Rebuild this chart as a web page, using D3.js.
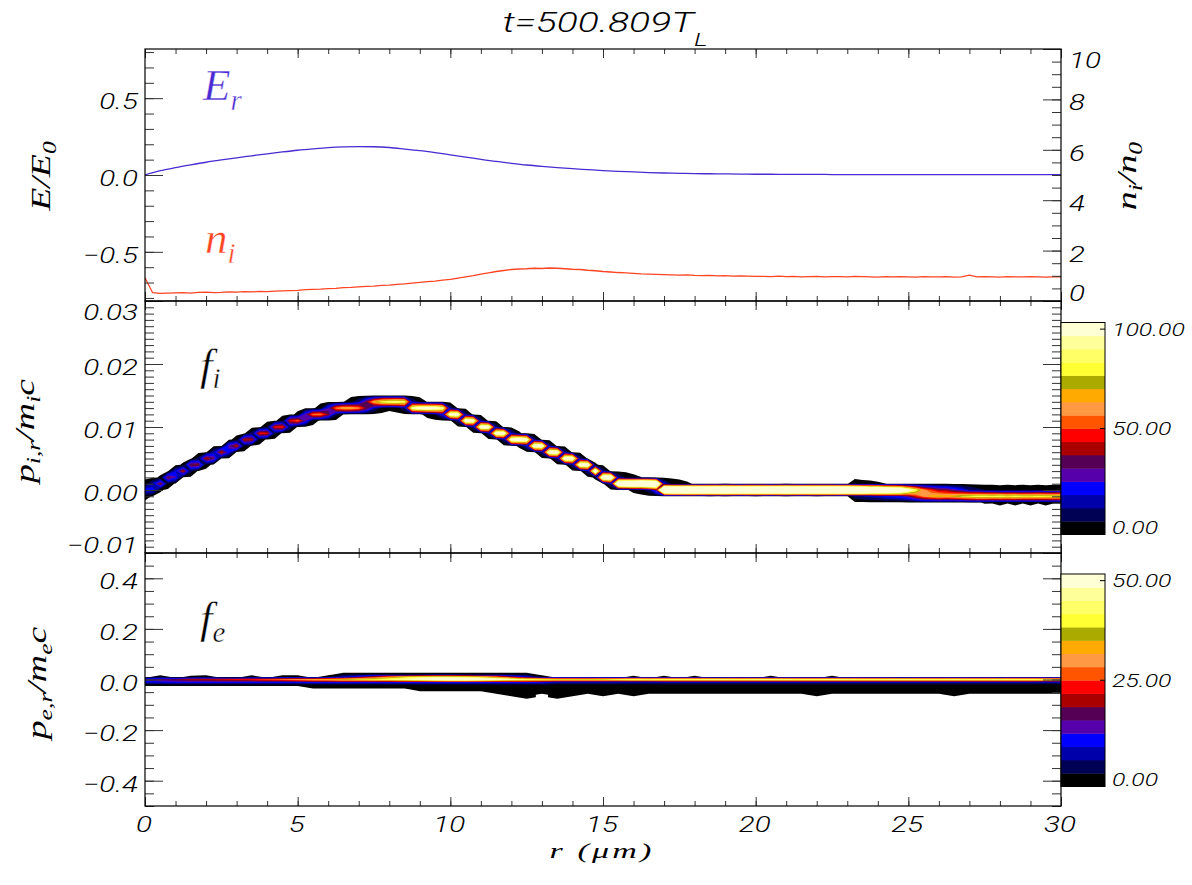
<!DOCTYPE html>
<html>
<head>
<meta charset="utf-8">
<script src="https://cdn.jsdelivr.net/npm/d3@7/dist/d3.min.js"></script>
<style>
  html, body { margin: 0; padding: 0; background: #fff; }
  svg { display: block; }
</style>
</head>
<body>
<svg id="chart" width="1192" height="885"></svg>
<script>
// ======================= DATA =======================
const titleMain = "t=500.809T";
const titleSub = "L";

const rDomain = [0, 30];
const rMajorTicks = [0, 5, 10, 15, 20, 25, 30];
const rTickLabels = ["0", "5", "10", "15", "20", "25", "30"];

// --- top panel: radial field E_r (left axis) and ion density n_i (right axis)
const erStep = 0.5;   // um between samples
const erValues = [0.000,0.028,0.048,0.066,0.083,0.098,0.112,0.125,0.138,0.150,
  0.161,0.170,0.178,0.183,0.185,0.184,0.179,0.169,0.158,0.145,
  0.131,0.117,0.102,0.088,0.076,0.065,0.056,0.048,0.041,0.035,
  0.029,0.024,0.020,0.016,0.013,0.011,0.009,0.008,0.007,0.006,
  0.005,0.005,0.004,0.004,0.004,0.003,0.003,0.003,0.003,0.003,
  0.002,0.002,0.002,0.002,0.002,0.002,0.002,0.002,0.002,0.002,0.002];
const niStep = 0.25;
const niValues = [0.92,0.33,0.30,0.31,0.32,0.33,0.31,0.34,0.35,0.33,
  0.34,0.36,0.35,0.37,0.36,0.38,0.37,0.39,0.40,0.41,
  0.42,0.45,0.46,0.47,0.49,0.50,0.53,0.54,0.56,0.58,
  0.59,0.62,0.63,0.66,0.68,0.71,0.74,0.77,0.79,0.83,
  0.86,0.91,0.96,1.01,1.07,1.12,1.17,1.21,1.25,1.27,
  1.28,1.30,1.29,1.31,1.30,1.28,1.26,1.25,1.22,1.20,
  1.17,1.15,1.13,1.12,1.10,1.08,1.07,1.06,1.05,1.04,
  1.03,1.04,1.02,1.01,1.02,1.00,1.01,0.99,1.00,0.99,
  0.98,0.98,0.97,0.99,0.97,0.98,0.96,0.97,0.98,0.96,
  0.97,0.97,0.96,0.98,0.97,0.96,0.95,0.97,0.96,0.97,
  0.96,0.95,0.97,0.96,0.96,0.97,0.95,0.96,1.03,0.96,
  0.97,0.96,0.95,0.97,0.96,0.96,0.97,0.96,0.95,0.96,0.96];

const topLeftDomain = [-0.82, 0.82];
const topLeftMajor = [-0.5, 0.0, 0.5];
const topLeftLabels = ["\u22120.5", "0.0", "0.5"];
const topRightDomain = [0, 10];
const topRightMajor = [0, 2, 4, 6, 8, 10];
const topRightLabels = ["0", "2", "4", "6", "8", "10"];

// --- middle panel: ion phase space f_i (ridge momentum per r column, in units of 0.001)
const ionDomain = [-0.01, 0.03];
const ionMajor = [-0.01, 0.0, 0.01, 0.02, 0.03];
const ionLabels = ["\u22120.01", "0.00", "0.01", "0.02", "0.03"];
const ionColStep = 0.25;     // um
const ionRowStep = 0.001;    // p_i,r / m_i c
const ionRidgeP = [0.0,0.4,1.0,1.75,2.45,3.1,3.7,4.3,4.85,5.4,
  5.95,6.55,7.15,7.75,8.3,8.8,9.25,9.75,10.2,10.7,
  11.1,11.5,11.85,12.15,12.45,12.75,13.0,13.15,13.3,13.5,
  13.7,13.85,13.95,13.9,13.75,13.25,13.1,12.95,12.85,12.7,
  12.2,11.8,11.2,10.8,10.2,9.8,9.2,8.8,8.25,8.0,
  7.75,7.2,6.8,6.2,5.8,5.2,4.8,4.2,3.8,3.0,
  2.2,1.8,1.2,1.1,1.0,0.95,0.85,0.7,0.25,0.15,
  0.1,0.05,0.0,0,0,0,0,0,0,0,
  0,0,0,0,0,0,0,0,0,0,
  0,0,0,-0.05,-0.1,-0.12,-0.15,-0.18,-0.2,-0.22,
  -0.3,-0.4,-0.5,-0.55,-0.6,-0.6,-0.65,-0.7,-0.8,-0.85,
  -0.9,-0.9,-0.95,-0.9,-0.95,-0.9,-0.95,-0.9,-0.95,-0.9,
  -0.9];
const ionCount = [30,38,42,44,45,46,46,47,47,48,
  48,49,49,50,51,52,53,54,55,56,
  57,58,60,62,64,66,68,70,72,75,
  82,88,92,95,100,108,112,115,117,118,
  120,122,124,122,125,124,126,125,127,126,
  128,127,129,128,130,129,131,130,132,132,
  140,150,160,165,170,175,180,190,200,200,
  200,205,200,198,202,200,205,200,198,200,
  202,200,198,200,205,200,198,200,202,200,
  200,198,200,195,190,185,180,175,170,165,
  140,130,120,115,110,105,100,100,95,95,
  92,90,90,88,90,88,88,90,88,88,
  88];
const ionSpreadEnd = [0.3, 0.6, 16.9, 23.1, 30.1];          // r where each spread range ends
const ionSpreadVal = [0.40, 0.28, 0.22, 0.185, 0.27];       // momentum spread (bins)

// --- bottom panel: electron phase space f_e (per r column, rows of 0.01)
const eDomain = [-0.5, 0.5];
const eMajor = [-0.4, -0.2, 0.0, 0.2, 0.4];
const eLabels = ["\u22120.4", "\u22120.2", "0.0", "0.2", "0.4"];
const eColStep = 0.5;
const eRowStep = 0.01;
const eUp2 = [0,0,0,0,0,0,0,0,0,0,
  0,0,0,3,3,3,3,3,3,3,
  3,3,3,3,3,3,0,0,0,0,
  0,0,0,0,0,0,0,0,0,0,
  0,0,0,0,0,0,0,0,0,0,
  0,0,0,0,0,0,0,0,0,0,
  0];
const eUp = [0,3,0,2,3,0,0,3,0,3,
  3,0,3,8,15,22,30,36,40,42,
  42,40,36,30,20,10,3,0,0,0,
  0,0,2,0,2,0,2,0,0,0,
  0,2,0,0,0,2,0,0,0,0,
  0,0,0,0,0,0,0,0,0,0,
  0];
const eCore = [14,17,19,21,22,23,24,25,27,29,
  31,33,35,37,39,41,44,47,52,56,
  58,58,56,53,49,45,42,40,40,41,
  42,43,44,44,45,45,45,46,46,45,
  46,46,46,45,45,46,46,45,45,46,
  46,45,45,46,45,45,46,45,45,44,
  44];
const eBelow = [10,11,12,12,12,12,12,12,12,12,
  12,14,14,14,14,14,14,14,14,14,
  14,14,14,14,14,14,14,9,9,9,
  9,9,9,9,9,9,9,9,9,9,
  9,9,9,9,9,9,9,9,9,9,
  9,9,9,9,9,9,9,9,9,9,
  9];
const eTailRows = [1,1,1,1,1,1,1,1,1,1,
  1,2,2,2,2,2,2,2,3,3,
  3,3,3,4,5,6,4,6,5,4,
  5,4,5,4,4,4,4,4,4,4,
  4,4,4,4,5,4,4,4,4,4,
  4,4,4,5,4,4,4,4,4,4,
  4];
const eTailValue = 2.5;

// --- colour table (16 filled levels, low to high)
const levelColors = ["#000000","#000055","#0000aa","#0000ff","#5500aa","#550055",
  "#aa0000","#ff0000","#ff5500","#ff9944","#ffaa00","#aaaa00",
  "#ffff33","#ffff66","#ffff99","#ffffd5"];
const ionCbarMax = 100, ionCbarTicks = [0, 50, 100], ionCbarLabels = ["0.00", "50.00", "100.00"];
const eCbarMax = 50, eCbarTicks = [0, 25, 50], eCbarLabels = ["0.00", "25.00", "50.00"];

const colorEr = "#4a2bd2";
const colorNi = "#ff4422";

// ======================= LAYOUT =======================
const svg = d3.select("#chart");
const plotL = 145, plotR = 1061;
const pTops = [49, 301, 553], pBots = [301, 553, 806];
const cbX0 = 1061, cbX1 = 1105;
const cbIon = [322.5, 534.5], cbE = [574, 786.5];

const x = d3.scaleLinear().domain(rDomain).range([plotL, plotR]);
const yE = d3.scaleLinear().domain(topLeftDomain).range([pBots[0], pTops[0]]);
const yN = d3.scaleLinear().domain(topRightDomain).range([pBots[0], pTops[0]]);
const yI = d3.scaleLinear().domain(ionDomain).range([pBots[1], pTops[1]]);
const yEl = d3.scaleLinear().domain(eDomain).range([pBots[2], pTops[2]]);

const sansFam = "Roboto, 'Liberation Sans', Arial, sans-serif";
const serifFam = "'Liberation Serif', 'Times New Roman', serif";
const stretch = 1.35;

const defs = svg.append("defs");
[0, 1, 2].forEach(k => {
  defs.append("clipPath").attr("id", "clip" + k).append("rect")
    .attr("x", plotL).attr("y", pTops[k])
    .attr("width", plotR - plotL).attr("height", pBots[k] - pTops[k]);
});

// ---------- helpers ----------
function erf(v) {
  const s = Math.sign(v); const a = Math.abs(v);
  const t = 1 / (1 + 0.3275911 * a);
  const y = 1 - (((((1.061405429 * t - 1.453152027) * t) + 1.421413741) * t - 0.284496736) * t + 0.254829592) * t * Math.exp(-a * a);
  return s * y;
}
function Phi(z) { return 0.5 * (1 + erf(z / Math.SQRT2)); }

function richText(parent, segs, o) {
  const t = parent.append("text")
    .attr("transform", o.transform)
    .attr("font-family", o.family || sansFam)
    .attr("font-style", "italic")
    .attr("font-weight", o.weight || 400)
    .attr("font-size", o.size)
    .attr("fill", o.fill || "#000")
    .attr("text-anchor", o.anchor || "start");
  if (o.ls) t.attr("letter-spacing", o.ls);
  if (o.thin) t.attr("stroke", "#fff").attr("stroke-width", o.thin);
  let shift = 0;
  segs.forEach(s => {
    const target = s.sub ? o.subShift : 0;
    const ts = t.append("tspan").text(s.t).attr("dy", target - shift);
    if (s.sub) ts.attr("font-size", o.subSize);
    shift = target;
  });
  return t;
}
function label(x0, y0, str, size, anchor) {
  return richText(svg, [{t: str}], {
    transform: `translate(${x0},${y0}) scale(${stretch},1)`, size: size, anchor: anchor, weight: 300
  });
}

function tickAxis(axisFn, scale, values, len, transform) {
  const g = svg.append("g").attr("transform", transform)
    .call(axisFn(scale).tickValues(values).tickSize(-len).tickFormat(""));
  g.select(".domain").remove();
  g.selectAll(".tick line").attr("stroke", "#333").attr("stroke-width", 1);
  g.selectAll(".tick text").remove();
}

function drawDensity(k, grid, nCols, nRows, colStep, rowStep, topRow, yScale, thresholds) {
  const gen = d3.contours().size([nCols, nRows]).thresholds(thresholds);
  const proj = d3.geoTransform({
    point: function (X, Y) {
      this.stream.point(x((X - 0.5) * colStep), yScale((topRow - (Y - 0.5)) * rowStep));
    }
  });
  const path = d3.geoPath(proj);
  svg.append("g").attr("clip-path", `url(#clip${k})`)
    .selectAll("path").data(gen(grid)).join("path")
    .attr("d", path).attr("fill", (d, i) => levelColors[i]).attr("stroke", "none");
}

// ---------- middle panel: ion phase-space density ----------
{
  const topRow = 17, botRow = -4;
  const rows = d3.range(topRow, botRow - 1, -1);
  const nCols = ionRidgeP.length, nRows = rows.length;
  const grid = new Array(nCols * nRows).fill(0);
  for (let i = 0; i < nCols; i++) {
    const r = i * ionColStep;
    let s = ionSpreadVal[ionSpreadVal.length - 1];
    for (let q = 0; q < ionSpreadEnd.length; q++) { if (r < ionSpreadEnd[q]) { s = ionSpreadVal[q]; break; } }
    rows.forEach((kk, j) => {
      grid[j * nCols + i] = ionCount[i] * (Phi((kk + 0.5 - ionRidgeP[i]) / s) - Phi((kk - 0.5 - ionRidgeP[i]) / s));
    });
  }
  const thr = [1].concat(d3.range(1, 16).map(v => v * ionCbarMax / 16));
  drawDensity(1, grid, nCols, nRows, ionColStep, ionRowStep, topRow, yI, thr);
}

// ---------- bottom panel: electron phase-space density ----------
{
  const topRow = 5, botRow = -12;
  const rows = d3.range(topRow, botRow - 1, -1);
  const nCols = eCore.length, nRows = rows.length;
  const grid = new Array(nCols * nRows).fill(0);
  for (let i = 0; i < nCols; i++) {
    rows.forEach((kk, j) => {
      let v = 0;
      if (kk === 0) v = eCore[i];
      else if (kk === 1) v = eUp[i];
      else if (kk === 2) v = eUp2[i];
      else if (kk === -1) v = eBelow[i];
      else if (kk < -1 && kk >= -1 - eTailRows[i]) v = eTailValue;
      grid[j * nCols + i] = v;
    });
  }
  const thr = [1].concat(d3.range(1, 16).map(v => v * eCbarMax / 16));
  drawDensity(2, grid, nCols, nRows, eColStep, eRowStep, topRow, yEl, thr);
}

// ---------- top panel: lines ----------
{
  const g = svg.append("g").attr("clip-path", "url(#clip0)");
  g.append("path").datum(erValues)
    .attr("d", d3.line().x((d, i) => x(i * erStep)).y(d => yE(d)).curve(d3.curveMonotoneX))
    .attr("fill", "none").attr("stroke", colorEr).attr("stroke-width", 1.3);
  g.append("path").datum(niValues)
    .attr("d", d3.line().x((d, i) => x(i * niStep)).y(d => yN(d)))
    .attr("fill", "none").attr("stroke", colorNi).attr("stroke-width", 1.3);
}

// ---------- frames & ticks ----------
const xMinor = d3.range(0, 31);
[0, 1, 2].forEach(k => {
  tickAxis(d3.axisTop, x, xMinor, 5, `translate(0,${pTops[k]})`);
  tickAxis(d3.axisTop, x, rMajorTicks, 9, `translate(0,${pTops[k]})`);
  tickAxis(d3.axisBottom, x, xMinor, 5, `translate(0,${pBots[k]})`);
  tickAxis(d3.axisBottom, x, rMajorTicks, 9, `translate(0,${pBots[k]})`);
});
const yAxesDef = [
  {k: 0, scale: yE, minor: d3.range(-8, 9).map(v => v / 10), major: topLeftMajor, side: "left"},
  {k: 0, scale: yN, minor: d3.range(0, 21).map(v => v / 2), major: topRightMajor, side: "right"},
  {k: 1, scale: yI, minor: d3.range(-10, 31).map(v => v / 1000), major: ionMajor, side: "both"},
  {k: 2, scale: yEl, minor: d3.range(-10, 11).map(v => v / 20), major: eMajor, side: "both"}
];
yAxesDef.forEach(a => {
  if (a.side === "left" || a.side === "both") {
    tickAxis(d3.axisLeft, a.scale, a.minor, 9, `translate(${plotL},0)`);
    tickAxis(d3.axisLeft, a.scale, a.major, 18, `translate(${plotL},0)`);
  }
  if (a.side === "right" || a.side === "both") {
    tickAxis(d3.axisRight, a.scale, a.minor, 9, `translate(${plotR},0)`);
    tickAxis(d3.axisRight, a.scale, a.major, 18, `translate(${plotR},0)`);
  }
});
[0, 1, 2].forEach(k => {
  svg.append("rect").attr("x", plotL).attr("y", pTops[k])
    .attr("width", plotR - plotL).attr("height", pBots[k] - pTops[k])
    .attr("fill", "none").attr("stroke", "#000").attr("stroke-width", 1.2);
});

// ---------- tick labels ----------
function leftLabels(scale, values, labels, top, bot, xPos, anchor) {
  values.forEach((v, i) => {
    const yy = scale(v);
    let base = yy + 11;
    if (Math.abs(yy - top) < 1) base = yy + 18.5;
    if (Math.abs(yy - bot) < 1) base = yy - 0.5;
    label(xPos, base, labels[i], 22, anchor);
  });
}
leftLabels(yE, topLeftMajor, topLeftLabels, pTops[0], pBots[0], 138, "end");
leftLabels(yN, topRightMajor, topRightLabels, pTops[0], pBots[0], 1069, "start");
leftLabels(yI, ionMajor, ionLabels, pTops[1], pBots[1], 138, "end");
leftLabels(yEl, eMajor, eLabels, pTops[2], pBots[2], 138, "end");
rMajorTicks.forEach((v, i) => label(x(v) - 1, 832, rTickLabels[i], 22, "middle"));

// ---------- colour bars ----------
function colorbar(range, maxV, ticks, labels) {
  const [y0, y1] = range;
  const bh = (y1 - y0) / levelColors.length;
  const g = svg.append("g");
  levelColors.forEach((c, i) => {
    g.append("rect").attr("x", cbX0).attr("y", y1 - (i + 1) * bh)
      .attr("width", cbX1 - cbX0).attr("height", bh + 0.4).attr("fill", c);
  });
  g.append("rect").attr("x", cbX0).attr("y", y0).attr("width", cbX1 - cbX0).attr("height", y1 - y0)
    .attr("fill", "none").attr("stroke", "#000").attr("stroke-width", 1);
  const ls = d3.scaleLinear().domain([0, maxV]).range([y1 - bh / 2, y0 + bh / 2]);
  ticks.forEach((v, i) => {
    g.append("line").attr("x1", cbX1 - 5).attr("x2", cbX1).attr("y1", ls(v)).attr("y2", ls(v))
      .attr("stroke", "#000").attr("stroke-width", 1);
    label(1112, ls(v) + 6.5, labels[i], 18.5, "start");
  });
}
colorbar(cbIon, ionCbarMax, ionCbarTicks, ionCbarLabels);
colorbar(cbE, eCbarMax, eCbarTicks, eCbarLabels);

// ---------- title ----------
richText(svg, [{t: titleMain}, {t: titleSub, sub: true}], {
  transform: `translate(605,32) scale(1.4,1)`, size: 28, anchor: "middle", subSize: 19, subShift: 14, weight: 300
});

// ---------- in-panel math labels ----------
const thinStroke = 0.45;
richText(svg, [{t: "E"}, {t: "r", sub: true}], {
  transform: "translate(203,100)", family: serifFam, size: 45, subSize: 29, subShift: 10, fill: colorEr, thin: thinStroke
});
richText(svg, [{t: "n"}, {t: "i", sub: true}], {
  transform: "translate(205,253)", family: serifFam, size: 45, subSize: 29, subShift: 10, fill: colorNi, thin: thinStroke
});
richText(svg, [{t: "f"}, {t: "i", sub: true}], {
  transform: "translate(200,380)", family: serifFam, size: 45, subSize: 29, subShift: 8, thin: thinStroke
});
richText(svg, [{t: "f"}, {t: "e", sub: true}], {
  transform: "translate(200,633)", family: serifFam, size: 45, subSize: 29, subShift: 9, thin: thinStroke
});

// ---------- axis titles ----------
richText(svg, [{t: "E/E"}, {t: "0", sub: true}], {
  transform: `translate(50,176) rotate(-90) scale(${stretch},1)`, family: serifFam, size: 28,
  anchor: "middle", subSize: 19, subShift: 6
});
richText(svg, [{t: "n"}, {t: "i", sub: true}, {t: "/n"}, {t: "0", sub: true}], {
  transform: `translate(1136,176) rotate(-90) scale(${stretch},1)`, family: serifFam, size: 28,
  anchor: "middle", subSize: 19, subShift: 6
});
richText(svg, [{t: "p"}, {t: "i,r", sub: true}, {t: "/m"}, {t: "i", sub: true}, {t: "c"}], {
  transform: `translate(34,431) rotate(-90) scale(${stretch},1)`, family: serifFam, size: 28,
  anchor: "middle", subSize: 19, subShift: 6
});
richText(svg, [{t: "p"}, {t: "e,r", sub: true}, {t: "/m"}, {t: "e", sub: true}, {t: "c"}], {
  transform: `translate(46,683) rotate(-90) scale(${stretch},1)`, family: serifFam, size: 28,
  anchor: "middle", subSize: 19, subShift: 6
});
richText(svg, [{t: "r (\u03bcm)"}], {
  transform: "translate(602,858) scale(1.55,1)", family: serifFam, size: 22, anchor: "middle", ls: 2
});
</script>
</body>
</html>
